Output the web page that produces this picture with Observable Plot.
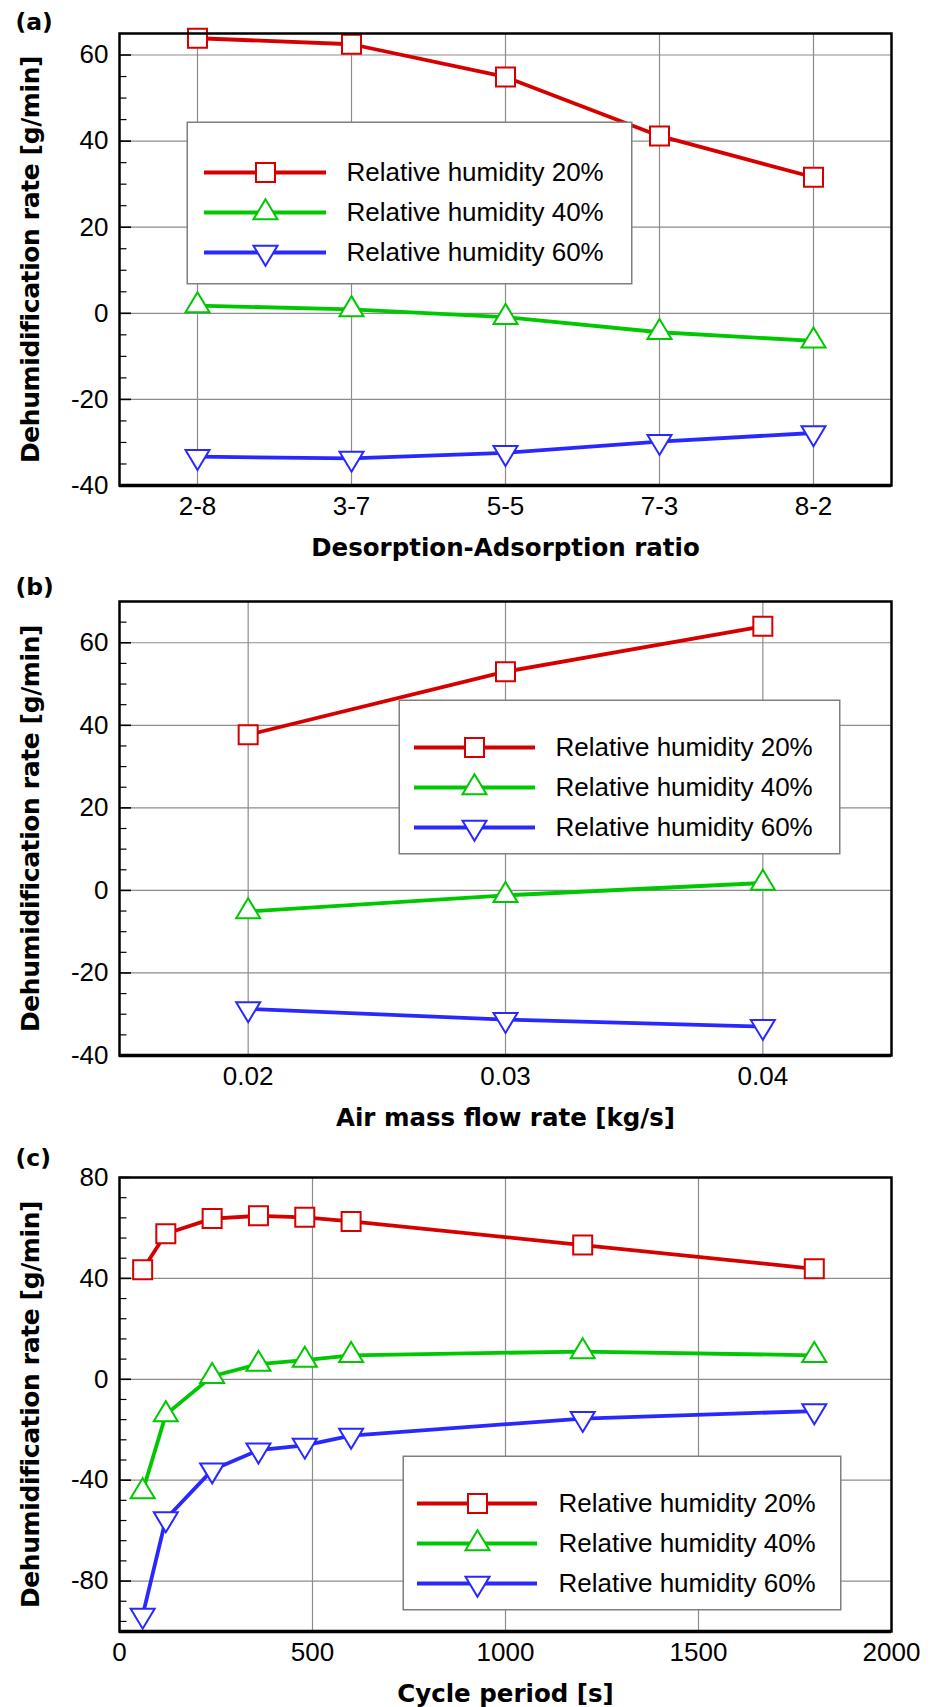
<!DOCTYPE html>
<html><head><meta charset="utf-8">
<script src="https://cdn.jsdelivr.net/npm/d3@7"></script>
<script src="https://cdn.jsdelivr.net/npm/@observablehq/plot@0.6"></script>
<style>
html,body{margin:0;padding:0;background:#fff;}
#wrap{position:relative;width:937px;height:1707px;overflow:hidden;background:#fff;}
#wrap > svg{display:block;}
.legend{position:absolute;}
.ytitle text{letter-spacing:-0.4px;}
</style></head><body><div id="wrap"></div>
<script>
// ---- data ----
const seriesLabels = ["Relative humidity 20%", "Relative humidity 40%", "Relative humidity 60%"];
const seriesColors = ["#d60000", "#00c800", "#2828ff"];

const ratioCategories = ["2-8", "3-7", "5-5", "7-3", "8-2"];
const ratioRH20 = [63.9, 62.5, 54.9, 41.2, 31.6];
const ratioRH40 = [1.8, 0.9, -0.9, -4.4, -6.4];
const ratioRH60 = [-33.3, -33.7, -32.4, -29.8, -27.8];

const flowRates = [0.02, 0.03, 0.04];
const flowRH20 = [37.7, 53.0, 64.0];
const flowRH40 = [-5.1, -1.2, 1.8];
const flowRH60 = [-28.7, -31.3, -33.0];

const cyclePeriods = [60, 120, 240, 360, 480, 600, 1200, 1800];
const cycleRH20 = [43.4, 57.7, 63.7, 64.8, 64.2, 62.6, 53.2, 43.8];
const cycleRH40 = [-44.5, -14.0, 1.2, 6.0, 7.6, 9.5, 11.0, 9.5];
const cycleRH60 = [-93.6, -55.4, -36.0, -28.1, -26.2, -22.3, -15.6, -12.6];

const yTicksA = [-40, -20, 0, 20, 40, 60];
const yTicksB = [-40, -20, 0, 20, 40, 60];
const yTicksC = [-80, -40, 0, 40, 80];
const xTicksB = [0.02, 0.03, 0.04];
const xTicksC = [0, 500, 1000, 1500, 2000];

const yTitle = "Dehumidification rate [g/min]";
const xTitleA = "Desorption-Adsorption ratio";
const xTitleB = "Air mass flow rate [kg/s]";
const xTitleC = "Cycle period [s]";

// ---- symbols ----
const symSquare = {draw(ctx) { const s = 9.5; ctx.moveTo(-s, -s); ctx.lineTo(s, -s); ctx.lineTo(s, s); ctx.lineTo(-s, s); ctx.closePath(); }};
const symTriUp = {draw(ctx) { ctx.moveTo(0, -13.3); ctx.lineTo(12, 6.7); ctx.lineTo(-12, 6.7); ctx.closePath(); }};
const symTriDown = {draw(ctx) { ctx.moveTo(0, 13.3); ctx.lineTo(12, -6.7); ctx.lineTo(-12, -6.7); ctx.closePath(); }};
const seriesSymbols = [symSquare, symTriUp, symTriDown];

const BOLD = "'DejaVu Sans', Verdana, sans-serif";
const REG = "'Liberation Sans', Arial, Helvetica, sans-serif";
const W = 937, ML = 119, MR = 46, FRAME_W = W - ML - MR;
const GRID = "#8c8c8c";

function panel(cfg) {
  const {xs, series, x, yDomain, yTicks, yMinor, xTicks, xFormat, gridX, xTitle, tag,
         height, marginTop, marginBottom, tagDy} = cfg;
  const marks = [
    Plot.ruleY(yTicks, {stroke: GRID, strokeWidth: 1.2}),
    Plot.ruleX(gridX, {stroke: GRID, strokeWidth: 1.2}),
    Plot.ruleY(yTicks, {stroke: "#000", strokeWidth: 1.6, insetRight: FRAME_W - 12}),
    Plot.ruleY(yMinor, {stroke: "#000", strokeWidth: 1.2, insetRight: FRAME_W - 7.5}),
  ];
  series.forEach((vals, k) => {
    const rows = vals.map((v, i) => ({x: xs[i], y: v}));
    marks.push(Plot.line(rows, {x: "x", y: "y", stroke: seriesColors[k], strokeWidth: 3.8}));
  });
  series.forEach((vals, k) => {
    const rows = vals.map((v, i) => ({x: xs[i], y: v}));
    marks.push(Plot.dot(rows, {x: "x", y: "y", symbol: seriesSymbols[k], r: 10, stroke: seriesColors[k], strokeWidth: 2, fill: "white"}));
  });
  marks.push(
    Plot.frame({stroke: "#000", strokeWidth: 2.5}),
    Plot.ruleY([yDomain[0]], {stroke: "#000", strokeWidth: 3.5}),
    Plot.axisY({ticks: yTicks, tickSize: 0, tickPadding: 11, tickFormat: d => String(d), fontSize: 26, label: null}),
    Plot.axisX({ticks: xTicks, tickSize: 0, tickPadding: 11.5, tickFormat: xFormat, fontSize: 26, label: null}),
    Plot.text([xTitle], {text: d => d, frameAnchor: "bottom", dy: 70, lineAnchor: "bottom", textAnchor: "middle", fontFamily: BOLD, fontWeight: "bold", fontSize: 24.5}),
    Plot.text([yTitle], {text: d => d, frameAnchor: "left", dx: -89, rotate: -90, textAnchor: "middle", lineAnchor: "middle", fontFamily: BOLD, fontWeight: "bold", fontSize: 25, className: "ytitle"}),
    Plot.text([tag], {text: d => d, frameAnchor: "top-left", dx: -104, dy: tagDy, textAnchor: "start", lineAnchor: "bottom", fontFamily: BOLD, fontWeight: "bold", fontSize: 23.5})
  );
  return Plot.plot({
    width: W, height, marginLeft: ML, marginRight: MR, marginTop, marginBottom,
    x, y: {domain: yDomain, nice: false},
    style: {fontFamily: REG, fontSize: "26px", background: "white", color: "#000", overflow: "visible"},
    marks
  });
}

function legend(cfg) {
  const {left, top, width, height, rowY, lineX, markerX, textX} = cfg;
  const marks = [Plot.frame({fill: "white", stroke: "#7f7f7f", strokeWidth: 1.5, inset: 0.75})];
  seriesLabels.forEach((label, k) => {
    const d = [{label}];
    marks.push(Plot.ruleY(d, {y: "label", x1: lineX[0], x2: lineX[1], stroke: seriesColors[k], strokeWidth: 3.8}));
    marks.push(Plot.dot(d, {x: markerX, y: "label", symbol: seriesSymbols[k], r: 10, stroke: seriesColors[k], strokeWidth: 2, fill: "white"}));
    marks.push(Plot.text(d, {x: textX, y: "label", text: "label", textAnchor: "start", fontSize: 26, fill: "#000"}));
  });
  const svg = Plot.plot({
    width, height, margin: 0,
    x: {type: "identity", axis: null},
    y: {type: "point", domain: seriesLabels, range: rowY, padding: 0, axis: null},
    style: {fontFamily: REG, fontSize: "26px", background: "transparent", overflow: "visible"},
    marks
  });
  svg.classList.add("legend");
  svg.style.left = left + "px";
  svg.style.top = top + "px";
  svg.style.position = "absolute";
  return svg;
}

const minor = (lo, hi, step, majors) => d3.range(lo, hi + 0.001, step).filter(v => !majors.includes(v));

const wrap = document.getElementById("wrap");

wrap.appendChild(panel({
  xs: ratioCategories, series: [ratioRH20, ratioRH40, ratioRH60],
  x: {type: "point", domain: ratioCategories, padding: 0.5},
  yDomain: [-40, 65], yTicks: yTicksA, yMinor: minor(-40, 65, 5, yTicksA),
  xTicks: undefined, xFormat: d => d, gridX: ratioCategories,
  xTitle: xTitleA, tag: "(a)", height: 570, marginTop: 33, marginBottom: 85, tagDy: -4
}));
wrap.appendChild(panel({
  xs: flowRates, series: [flowRH20, flowRH40, flowRH60],
  x: {type: "linear", domain: [0.015, 0.045]},
  yDomain: [-40, 70], yTicks: yTicksB, yMinor: minor(-40, 70, 5, yTicksB),
  xTicks: xTicksB, xFormat: d => d.toFixed(2), gridX: xTicksB,
  xTitle: xTitleB, tag: "(b)", height: 570, marginTop: 31, marginBottom: 85, tagDy: -6.5
}));
wrap.appendChild(panel({
  xs: cyclePeriods, series: [cycleRH20, cycleRH40, cycleRH60],
  x: {type: "linear", domain: [0, 2000]},
  yDomain: [-100, 80], yTicks: yTicksC, yMinor: minor(-96, 80, 8, yTicksC),
  xTicks: xTicksC, xFormat: d => String(d), gridX: [500, 1000, 1500],
  xTitle: xTitleC, tag: "(c)", height: 567, marginTop: 37, marginBottom: 76, tagDy: -12
}));

wrap.appendChild(legend({left: 186, top: 121, width: 446, height: 163, rowY: [51, 131], lineX: [18, 140], markerX: 79, textX: 160}));
wrap.appendChild(legend({left: 398, top: 699, width: 442, height: 155, rowY: [48, 128], lineX: [16, 137], markerX: 76, textX: 157}));
wrap.appendChild(legend({left: 402, top: 1455, width: 439, height: 155, rowY: [48, 128], lineX: [15, 135], markerX: 75, textX: 156}));
</script>
</body></html>
